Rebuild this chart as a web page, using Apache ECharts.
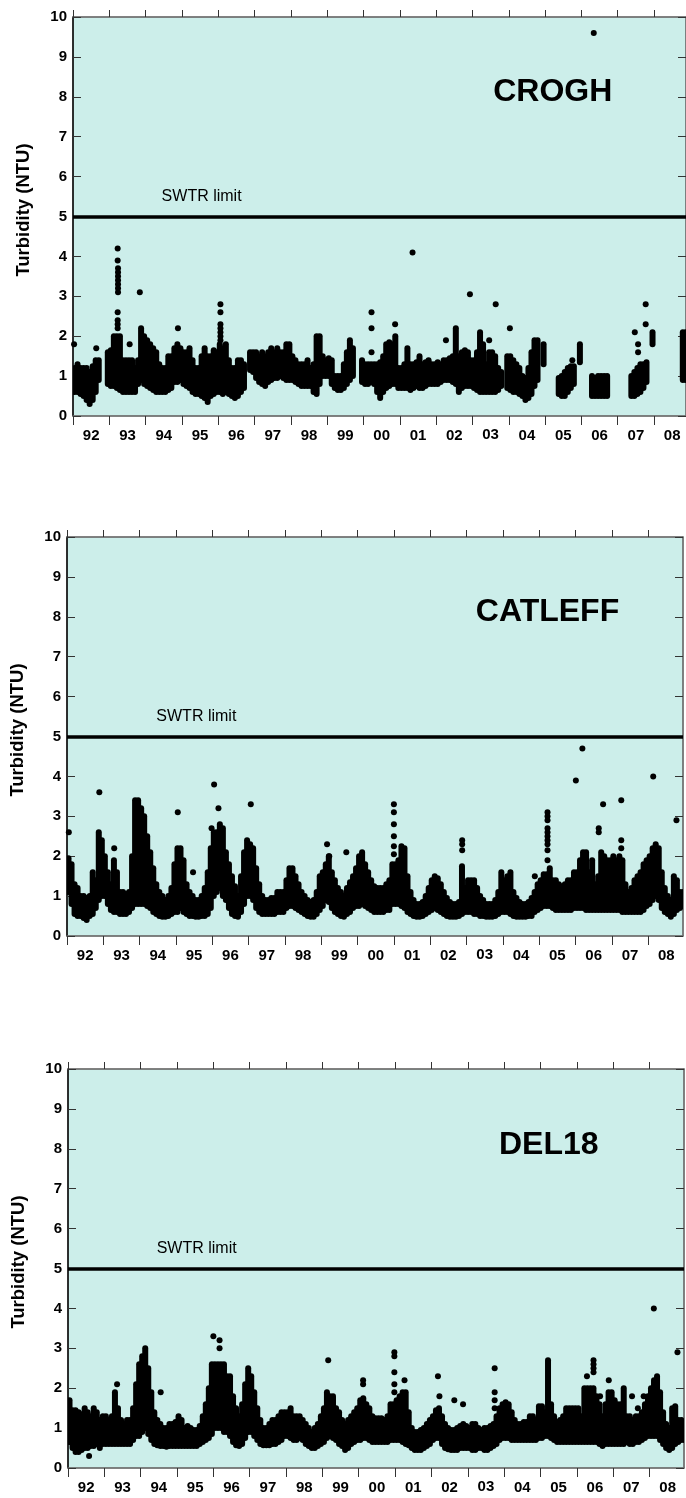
<!DOCTYPE html>
<html>
<head>
<meta charset="utf-8">
<script src="https://cdn.jsdelivr.net/npm/echarts@6/dist/echarts.min.js"></script>
<style>html,body{margin:0;padding:0;background:#fff}#c{width:686px;height:1498px}</style>
</head>
<body>
<div id="c"></div>
<script>
// ---------- tick labels ----------
const yearLabels = ['92','93','94','95','96','97','98','99','00','01','02','03','04','05','06','07','08'];
const yearTicks = [1992,1993,1994,1995,1996,1997,1998,1999,2000,2001,2002,2003,2004,2005,2006,2007,2008];
const yearMids = [1992.5,1993.5,1994.5,1995.5,1996.5,1997.5,1998.5,1999.5,2000.5,2001.5,2002.5,2003.5,2004.5,2005.5,2006.5,2007.5,2008.5];
const siteNames = ['CROGH','CATLEFF','DEL18'];
const limitValue = 5;
const limitLabel = 'SWTR limit';
const yTitle = 'Turbidity (NTU)';

// ---------- CROGH: monthly low / high envelope (rows = years 1992..2008, 12 months) ----------
const croghLow = [
 [0.6,0.6,0.55,0.5,0.4,0.3,0.4,0.6,0.9,null,null,0.8],
 [0.75,0.75,0.7,0.65,0.6,0.6,0.6,0.6,0.6,0.8,0.9,0.8],
 [0.75,0.7,0.65,0.6,0.6,0.6,0.6,0.65,0.7,0.85,0.85,0.9],
 [0.8,0.75,0.7,0.6,0.55,0.55,0.5,0.45,0.35,0.5,0.55,0.6],
 [0.6,0.55,0.6,0.55,0.5,0.45,0.5,0.6,0.7,null,1.15,1.1],
 [0.95,0.85,0.8,0.75,0.85,0.9,0.95,0.95,1.0,0.95,0.9,0.9],
 [0.9,0.85,0.8,0.75,0.75,0.75,0.75,0.6,0.55,0.8,1.0,1.0],
 [1.0,0.8,0.7,0.65,0.65,0.7,0.8,0.9,1.0,null,null,0.85],
 [0.8,0.8,0.85,0.8,0.6,0.45,0.6,0.7,0.75,0.8,0.8,0.7],
 [0.7,0.7,0.7,0.65,0.7,0.75,0.7,0.7,0.75,0.8,0.8,0.8],
 [0.8,0.85,0.9,0.9,0.9,0.85,0.8,0.6,0.7,0.75,0.75,0.75],
 [0.7,0.65,0.6,0.6,0.6,0.6,0.6,0.6,0.65,0.75,null,0.7],
 [0.65,0.6,0.6,0.55,0.5,0.4,0.45,0.55,0.75,0.9,null,1.3],
 [null,null,null,null,0.55,0.5,0.5,0.6,0.7,0.8,null,1.35],
 [null,null,null,0.5,0.5,0.5,0.5,0.5,0.5,null,null,null],
 [null,null,null,null,0.5,0.5,0.55,0.6,0.7,0.85,null,1.8],
 [null,null,null,null,null,null,null,null,null,0.9,0.9,null]
];
const croghHigh = [
 [1.2,1.3,1.2,1.2,1.2,1.1,1.25,1.4,1.4,null,null,1.6],
 [1.65,2.0,2.0,2.0,1.4,1.4,1.4,1.4,1.2,1.4,2.2,2.0],
 [1.9,1.8,1.7,1.6,1.3,1.2,1.2,1.5,1.5,1.7,1.8,1.7],
 [1.6,1.6,1.7,1.4,1.2,1.2,1.5,1.7,1.5,1.5,1.65,1.6],
 [1.8,1.7,1.8,1.4,1.2,1.2,1.4,1.4,1.3,null,1.6,1.6],
 [1.6,1.5,1.6,1.5,1.6,1.7,1.6,1.7,1.6,1.6,1.8,1.8],
 [1.5,1.4,1.3,1.3,1.3,1.4,1.2,1.3,2.0,2.0,1.5,1.4],
 [1.45,1.4,1.0,1.0,1.0,1.3,1.6,1.9,1.7,null,null,1.4],
 [1.3,1.3,1.3,1.3,1.3,1.35,1.5,1.8,1.85,1.8,2.0,1.2],
 [1.2,1.3,1.7,1.3,1.3,1.35,1.5,1.3,1.35,1.4,1.3,1.3],
 [1.35,1.3,1.4,1.4,1.45,1.5,2.2,1.5,1.6,1.65,1.6,1.4],
 [1.4,1.6,2.1,1.8,1.3,1.6,1.6,1.5,1.2,1.1,null,1.5],
 [1.5,1.4,1.3,1.2,1.0,0.95,1.2,1.6,1.9,1.9,null,1.8],
 [null,null,null,null,0.95,1.0,1.1,1.2,1.25,1.25,null,1.8],
 [null,null,null,1.0,0.95,1.0,1.0,1.0,1.0,null,null,null],
 [null,null,null,null,1.0,1.1,1.2,1.3,1.3,1.35,null,2.1],
 [null,null,null,null,null,null,null,null,null,2.1,2.1,null]
];
const croghDots = [
 [1992.03,1.8],[1992.64,1.7],
 [1993.23,4.2],[1993.23,3.9],[1993.24,3.7],[1993.24,3.6],[1993.24,3.5],[1993.24,3.4],[1993.24,3.3],[1993.24,3.2],[1993.24,3.1],
 [1993.23,2.6],[1993.23,2.4],[1993.23,2.3],[1993.23,2.2],
 [1993.56,1.8],[1993.84,3.1],[1994.89,2.2],
 [1996.06,2.8],[1996.06,2.6],[1996.06,2.3],[1996.06,2.2],[1996.06,2.1],[1996.06,2.0],[1996.06,1.9],
 [2000.22,2.6],[2000.22,2.2],[2000.22,1.6],[2000.87,2.3],
 [2001.35,4.1],[2002.27,1.9],[2002.93,3.05],[2003.46,1.9],[2003.64,2.8],[2004.03,2.2],[2005.75,1.4],
 [2006.34,9.6],
 [2007.47,2.1],[2007.56,1.8],[2007.56,1.6],[2007.77,2.3],[2007.77,2.8]
];

// ---------- CATLEFF ----------
const catleffLow = [
 [1.1,0.8,0.55,0.5,0.5,0.45,0.4,0.5,0.55,0.7,0.9,1.0],
 [1.0,0.8,0.65,0.6,0.6,0.55,0.55,0.55,0.6,0.7,0.8,0.8],
 [0.8,0.8,0.75,0.7,0.6,0.55,0.5,0.48,0.48,0.5,0.55,0.6],
 [0.6,0.7,0.6,0.55,0.5,0.5,0.48,0.48,0.5,0.5,0.55,0.7],
 [1.0,1.1,1.2,1.0,0.9,0.7,0.55,0.5,0.48,0.6,0.8,1.0],
 [1.0,0.9,0.7,0.6,0.55,0.55,0.55,0.55,0.55,0.6,0.6,0.6],
 [0.7,0.75,0.75,0.7,0.65,0.6,0.55,0.5,0.48,0.48,0.55,0.65],
 [0.75,0.9,0.85,0.7,0.6,0.55,0.5,0.48,0.55,0.6,0.7,0.75],
 [0.75,0.8,0.75,0.7,0.65,0.6,0.6,0.6,0.6,0.65,0.65,0.8],
 [0.8,0.8,0.75,0.7,0.6,0.55,0.5,0.48,0.48,0.5,0.55,0.6],
 [0.65,0.7,0.65,0.6,0.55,0.5,0.48,0.48,0.48,0.5,0.55,0.6],
 [0.6,0.6,0.55,0.55,0.5,0.5,0.48,0.48,0.48,0.5,0.55,0.6],
 [0.6,0.6,0.55,0.5,0.48,0.48,0.48,0.48,0.5,0.5,0.6,0.65],
 [0.7,0.75,0.75,0.75,0.7,0.65,0.65,0.65,0.65,0.65,0.65,0.7],
 [0.7,0.7,0.7,0.65,0.65,0.65,0.65,0.65,0.65,0.65,0.65,0.65],
 [0.65,0.65,0.65,0.6,0.6,0.6,0.6,0.6,0.6,0.6,0.65,0.75],
 [0.8,0.9,1.0,0.9,0.7,0.6,0.55,0.48,0.55,0.65,0.7,0.75]
];
const catleffHigh = [
 [1.95,1.8,1.3,1.2,1.0,1.0,0.95,1.0,1.6,1.4,2.6,2.4],
 [2.0,1.6,1.3,1.9,1.6,1.1,1.1,1.05,1.1,2.0,3.4,3.4],
 [3.2,3.0,2.5,2.1,1.7,1.3,1.1,1.0,0.9,1.0,1.2,1.8],
 [2.2,2.2,1.9,1.3,1.1,1.0,0.9,0.9,1.0,1.2,1.6,2.2],
 [2.6,2.6,2.8,2.7,2.1,1.8,1.5,1.25,1.0,1.5,2.1,2.4],
 [2.3,2.2,1.7,1.3,1.0,0.9,0.9,0.95,0.95,1.1,1.1,1.1],
 [1.4,1.7,1.7,1.5,1.3,1.1,1.0,0.9,0.85,0.9,1.1,1.5],
 [1.6,1.8,2.0,1.6,1.4,1.2,1.1,1.0,1.2,1.35,1.5,1.7],
 [2.0,2.1,1.8,1.6,1.4,1.25,1.2,1.2,1.2,1.3,1.4,1.8],
 [1.8,1.9,2.25,2.2,1.5,1.1,0.9,0.8,0.8,0.85,1.0,1.2],
 [1.4,1.5,1.45,1.3,1.1,0.95,0.85,0.8,0.8,0.85,1.75,1.2],
 [1.4,1.4,1.4,1.2,1.0,0.9,0.8,0.8,0.8,0.9,1.1,1.6],
 [1.4,1.5,1.6,1.1,0.95,0.85,0.8,0.8,0.85,0.95,1.1,1.3],
 [1.4,1.55,1.55,1.7,1.4,1.4,1.3,1.25,1.3,1.4,1.4,1.6],
 [1.6,1.9,2.1,2.1,1.6,1.9,1.3,1.5,2.1,2.0,1.9,1.9],
 [2.0,1.9,2.0,1.9,1.3,1.1,1.2,1.4,1.5,1.6,1.8,1.9],
 [2.0,2.2,2.3,2.2,1.6,1.2,1.0,0.9,1.5,1.4,1.1,1.1]
];
const catleffDots = [
 [1992.05,2.6],[1992.89,3.6],[1993.3,2.2],[1995.05,3.1],[1995.47,1.6],[1995.98,2.7],
 [1996.05,3.8],[1996.17,3.2],[1997.06,3.3],[1997.08,2.2],[1999.16,2.3],[1999.22,2.0],[1999.69,2.1],
 [2001.0,3.3],[2001.0,3.1],[2001.0,2.8],[2001.0,2.5],[2001.0,2.25],[2001.0,2.05],
 [2002.88,2.4],[2002.88,2.3],[2002.88,2.15],[2004.88,1.5],
 [2005.23,3.1],[2005.23,3.0],[2005.23,2.9],[2005.23,2.7],[2005.23,2.6],[2005.23,2.5],[2005.23,2.4],[2005.23,2.3],[2005.23,2.15],[2005.23,1.9],
 [2006.01,3.9],[2006.19,4.7],[2006.64,2.7],[2006.64,2.6],[2006.76,3.3],
 [2007.26,3.4],[2007.26,2.4],[2007.26,2.2],[2008.14,4.0],[2008.78,2.9]
];

// ---------- DEL18 ----------
const del18Low = [
 [0.65,0.5,0.4,0.4,0.45,0.5,0.5,0.55,0.55,0.6,0.5,0.6],
 [0.6,0.6,0.6,0.6,0.6,0.6,0.6,0.6,0.6,0.7,0.8,0.8],
 [0.9,1.0,0.85,0.7,0.6,0.57,0.55,0.55,0.53,0.55,0.55,0.55],
 [0.55,0.55,0.55,0.55,0.55,0.55,0.55,0.6,0.65,0.7,0.75,0.85],
 [1.0,1.0,1.0,0.9,0.9,0.8,0.65,0.57,0.55,0.6,0.75,0.9],
 [0.9,0.8,0.7,0.6,0.57,0.57,0.57,0.6,0.6,0.65,0.7,0.8],
 [0.8,0.75,0.7,0.7,0.75,0.7,0.6,0.55,0.5,0.5,0.55,0.6],
 [0.65,0.75,0.8,0.75,0.7,0.6,0.55,0.45,0.5,0.6,0.65,0.7],
 [0.7,0.75,0.75,0.7,0.65,0.65,0.65,0.65,0.65,0.65,0.7,0.7],
 [0.7,0.7,0.65,0.6,0.57,0.5,0.45,0.45,0.45,0.5,0.55,0.6],
 [0.7,0.75,0.75,0.6,0.5,0.47,0.45,0.45,0.45,0.5,0.5,0.5],
 [0.5,0.45,0.45,0.5,0.5,0.45,0.45,0.5,0.55,0.6,0.7,0.75],
 [0.75,0.75,0.7,0.7,0.7,0.7,0.7,0.7,0.7,0.7,0.7,0.75],
 [0.75,0.8,0.8,0.75,0.7,0.65,0.65,0.65,0.65,0.65,0.65,0.65],
 [0.65,0.65,0.65,0.65,0.65,0.65,0.65,0.6,0.55,0.6,0.6,0.6],
 [0.6,0.6,0.6,0.6,0.65,0.6,0.6,0.65,0.65,0.7,0.75,0.8],
 [0.8,0.8,0.8,0.7,0.6,0.5,0.45,0.5,0.6,0.65,0.7,0.7]
];
const del18High = [
 [1.7,1.45,1.45,1.4,1.35,1.5,1.4,1.3,1.5,1.4,1.2,1.3],
 [1.3,1.2,1.3,1.9,1.5,1.2,1.1,1.2,1.2,1.5,2.1,2.6],
 [2.8,3.0,2.5,1.9,1.4,1.2,1.1,1.0,1.0,1.1,1.1,1.15],
 [1.3,1.2,1.0,1.05,1.0,0.95,0.95,1.05,1.3,1.6,2.0,2.6],
 [2.6,2.6,2.6,2.6,2.3,2.3,1.8,1.5,1.3,1.6,2.1,2.5],
 [2.3,1.9,1.5,1.2,1.0,1.0,1.1,1.2,1.2,1.3,1.4,1.4],
 [1.4,1.5,1.3,1.3,1.3,1.2,1.1,1.0,0.9,1.0,1.1,1.3],
 [1.5,1.9,1.8,1.8,1.5,1.4,1.2,1.1,1.2,1.3,1.4,1.5],
 [1.7,1.75,1.6,1.5,1.3,1.25,1.25,1.25,1.2,1.3,1.6,1.6],
 [1.7,1.8,1.9,1.9,1.4,1.0,0.9,0.9,0.95,1.0,1.1,1.2],
 [1.3,1.45,1.5,1.3,1.1,1.0,0.95,0.95,1.0,1.05,1.1,1.05],
 [1.0,1.1,1.1,1.0,0.95,1.0,1.0,1.05,1.1,1.3,1.5,1.6],
 [1.65,1.6,1.4,1.2,1.1,1.1,1.15,1.15,1.3,1.3,1.2,1.55],
 [1.55,1.4,2.7,1.6,1.3,1.15,1.2,1.3,1.5,1.5,1.5,1.5],
 [1.5,1.3,2.0,2.0,2.0,2.0,1.8,1.6,1.3,1.6,1.9,1.9],
 [1.7,1.6,1.6,2.0,1.3,1.3,1.2,1.3,1.3,1.4,1.6,1.8],
 [2.0,2.2,2.3,1.9,1.4,1.1,1.0,1.5,1.55,1.2,1.2,1.1]
];
const del18Dots = [
 [1992.58,0.3],[1993.35,2.1],[1994.55,1.9],[1996.0,3.3],[1996.17,3.2],[1996.17,3.0],[1999.16,2.7],
 [2000.12,2.2],[2000.12,2.1],
 [2000.98,2.9],[2000.98,2.8],[2000.98,2.4],[2000.98,2.1],[2000.98,1.9],
 [2001.26,2.2],[2002.18,2.3],[2002.22,1.8],[2002.63,1.7],[2002.87,1.6],
 [2003.74,2.5],[2003.74,1.9],[2003.74,1.7],[2003.74,1.5],
 [2006.28,2.3],[2006.46,2.7],[2006.46,2.6],[2006.46,2.5],[2006.46,2.4],[2006.64,1.8],[2006.88,2.2],
 [2007.52,1.8],[2007.68,1.5],[2007.84,1.8],[2008.12,4.0],[2008.77,2.9]
];

// ---------- layout ----------
const DOT = 6;
const panels = [
  {name: siteNames[0], low: croghLow, high: croghHigh, dots: croghDots, grid:{left:73, top:17, width:613, height:399}, xMax:2008.88, label:[1994.44,5.51], title:[2005.21,8.11]},
  {name: siteNames[1], low: catleffLow, high: catleffHigh, dots: catleffDots, grid:{left:67, top:537, width:616, height:399}, xMax:2008.96, label:[1994.46,5.51], title:[2005.23,8.12]},
  {name: siteNames[2], low: del18Low, high: del18High, dots: del18Dots, grid:{left:68, top:1069, width:616, height:399}, xMax:2008.95, label:[1994.44,5.51], title:[2005.23,8.1]}
];

function bins(low, high) {
  const out = [];
  low.forEach((row, yi) => row.forEach((lo, m) => {
    const hi = high[yi][m];
    if (lo == null || hi == null) return;
    out.push([1992 + (yi * 12 + m + 0.5) / 12, lo, hi]);
  }));
  return out;
}
function rangeItem(params, api) {
  const t = api.value(0), lo = api.value(1), hi = api.value(2);
  const a = api.coord([t, hi]), b = api.coord([t, lo]);
  const r = DOT / 2;
  return {type:'rect', shape:{x:a[0]-r, y:a[1]-r, width:DOT, height:(b[1]-a[1])+DOT, r:r}, style:{fill:'#000', opacity:1}};
}

const FONT = 'Liberation Sans, Arial, Helvetica, sans-serif';
const grid = [], xAxis = [], yAxis = [], series = [];
panels.forEach((p, i) => {
  grid.push(Object.assign({show:true, backgroundColor:'#CCEEEA', borderColor:'#7a7a7a', borderWidth:1, containLabel:false}, p.grid));
  xAxis.push({gridIndex:i, type:'value', position:'bottom', min:1992, max:p.xMax,
    axisLine:{show:true, onZero:false, lineStyle:{color:'#6e6e6e', width:1.5}},
    axisTick:{show:true, inside:false, length:9, customValues:yearTicks, lineStyle:{color:'#333', width:1}},
    axisLabel:{show:true, customValues:yearMids,
      formatter:(v)=>{ const s = yearLabels[Math.floor(v)-1992]; return s === '03' ? '{up|' + s + '}' : s; },
      color:'#000', fontWeight:'bold', fontSize:15, margin:12, fontFamily:FONT,
      rich:{up:{color:'#000', fontWeight:'bold', fontSize:15, fontFamily:FONT, lineHeight:14}}},
    splitLine:{show:false}});
  xAxis.push({gridIndex:i, type:'value', position:'top', min:1992, max:p.xMax,
    axisLine:{show:true, onZero:false, lineStyle:{color:'#6e6e6e', width:1.5}},
    axisTick:{show:true, inside:false, length:7, customValues:yearTicks, lineStyle:{color:'#333', width:1}},
    axisLabel:{show:false}, splitLine:{show:false}});
  yAxis.push({gridIndex:i, type:'value', position:'left', min:0, max:10, interval:1,
    axisLine:{show:true, onZero:false, lineStyle:{color:'#000', width:1.5}},
    axisTick:{show:true, inside:true, length:8, lineStyle:{color:'#333', width:1}},
    axisLabel:{show:true, color:'#000', fontWeight:'bold', fontSize:15, margin:6, fontFamily:FONT},
    splitLine:{show:false},
    name:yTitle, nameLocation:'middle', nameGap:40,
    nameTextStyle:{color:'#000', fontWeight:'bold', fontSize:18.5, fontFamily:FONT, padding:[0,0,0,13]}});
  yAxis.push({gridIndex:i, type:'value', position:'right', min:0, max:10, interval:1,
    axisLine:{show:true, onZero:false, lineStyle:{color:'#6e6e6e', width:1.5}},
    axisTick:{show:true, inside:true, length:8, lineStyle:{color:'#333', width:1}},
    axisLabel:{show:false}, splitLine:{show:false}});
  series.push({type:'custom', xAxisIndex:2*i, yAxisIndex:2*i, renderItem:rangeItem, data:bins(p.low, p.high),
    encode:{x:0, y:[1,2]}, clip:true, silent:true, z:3});
  series.push({type:'scatter', xAxisIndex:2*i, yAxisIndex:2*i, data:p.dots, symbol:'circle', symbolSize:DOT,
    itemStyle:{color:'#000', opacity:1}, silent:true, z:4,
    markLine:{silent:true, symbol:['none','none'], data:[{yAxis:limitValue}], label:{show:false},
      lineStyle:{color:'#000', width:3.5, type:'solid', opacity:1}, z:5}});
  series.push({type:'scatter', xAxisIndex:2*i, yAxisIndex:2*i, symbolSize:0, silent:true, z:6,
    itemStyle:{opacity:1},
    data:[{value:p.label, label:{show:true, position:'right', distance:0, formatter:limitLabel, color:'#000', fontSize:16, fontFamily:FONT}},
          {value:p.title, label:{show:true, position:'inside', formatter:p.name, color:'#000', fontSize:32, fontWeight:'bold', fontFamily:FONT}}]});
});

const chart = echarts.init(document.getElementById('c'), null, {renderer:'canvas'});
chart.setOption({animation:false, backgroundColor:'#fff', textStyle:{fontFamily:FONT}, grid, xAxis, yAxis, series});
</script>
</body>
</html>
